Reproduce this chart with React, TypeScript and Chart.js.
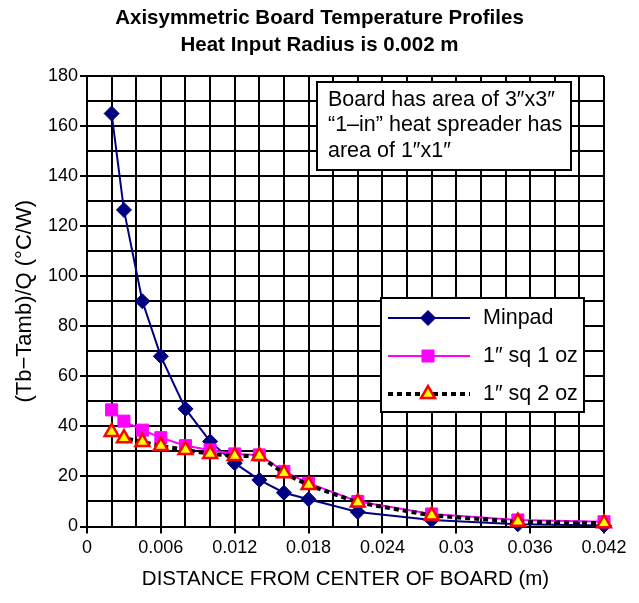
import React, { useEffect, useRef } from 'react';
import { Chart, registerables } from 'chart.js';
import { drawPoint } from 'chart.js/helpers';

Chart.register(...registerables);

// ---- data ----
const distances = [0.002, 0.003, 0.0045, 0.006, 0.008, 0.01, 0.012, 0.014, 0.016, 0.018, 0.022, 0.028, 0.035, 0.042];
const minpad = [165, 126.5, 90, 68, 47, 34, 25.3, 18.6, 13.5, 10.9, 5.8, 2.6, 0.9, 0.4];
const sq1oz = [46.6, 42.1, 38.5, 35.5, 32.3, 30.6, 29.0, 28.6, 22.0, 17.3, 10.0, 5.0, 2.6, 1.9];
const sq2oz = [37.8, 35.3, 33.8, 32.2, 30.6, 29.0, 28.2, 28.2, 21.3, 16.6, 9.6, 4.4, 1.9, 1.3];
const seriesNames = ['Minpad', '1\u2033 sq 1 oz', '1\u2033 sq 2 oz'];
const titleLines = ['Axisymmetric Board Temperature Profiles', 'Heat Input Radius is 0.002 m'];
const noteLines = ['Board has area of 3\u2033x3\u2033', '\u201C1\u2013in\u201D heat spreader has', 'area of 1\u2033x1\u2033'];
const xTitle = 'DISTANCE FROM CENTER OF BOARD (m)';
const yTitle = '(Tb\u2212Tamb)/Q (\u00B0C/W)';
const xMax = 0.042;
const xStep = 0.002;
const yMax = 180;
const yStep = 10;

const FAMILY = '"Liberation Sans", Arial, sans-serif';

const overlayPlugin = {
  id: 'overlay',
  afterDraw(chart: any) {
    const ctx: CanvasRenderingContext2D = chart.ctx;
    const ca = chart.chartArea;
    ctx.save();
    // note box
    const nx = ca.left + 230, ny = ca.top + 6, nw = 254, nh = 88;
    ctx.fillStyle = '#ffffff';
    ctx.fillRect(nx, ny, nw, nh);
    ctx.strokeStyle = '#000000';
    ctx.lineWidth = 2;
    ctx.strokeRect(nx, ny, nw, nh);
    ctx.fillStyle = '#000000';
    ctx.font = `21.5px ${FAMILY}`;
    ctx.textBaseline = 'middle';
    ctx.textAlign = 'left';
    noteLines.forEach((t, i) => ctx.fillText(t, nx + 11, ny + 18 + i * 25.5));

    // legend box
    const lx = ca.left + 294, ly = ca.top + 222, lw = 203, lh = 114;
    ctx.fillStyle = '#ffffff';
    ctx.fillRect(lx, ly, lw, lh);
    ctx.strokeStyle = '#000000';
    ctx.lineWidth = 2;
    ctx.strokeRect(lx, ly, lw, lh);
    chart.data.datasets.forEach((ds: any, i: number) => {
      const cy = ly + 20 + i * 38;
      ctx.save();
      ctx.strokeStyle = ds.borderColor;
      ctx.lineWidth = ds.borderWidth;
      ctx.setLineDash(ds.borderDash || []);
      ctx.beginPath();
      ctx.moveTo(lx + 7, cy);
      ctx.lineTo(lx + 89, cy);
      ctx.stroke();
      ctx.setLineDash([]);
      ctx.fillStyle = ds.pointBackgroundColor;
      ctx.strokeStyle = ds.pointBorderColor;
      ctx.lineWidth = ds.pointBorderWidth;
      drawPoint(ctx, { pointStyle: ds.pointStyle, rotation: 0, radius: ds.pointRadius, borderWidth: ds.pointBorderWidth } as any, lx + 47, cy);
      ctx.restore();
      ctx.fillStyle = '#000000';
      ctx.font = `21.5px ${FAMILY}`;
      ctx.textBaseline = 'middle';
      ctx.fillText(ds.label, lx + 102, cy);
    });
    ctx.restore();
  },
};

export default function App() {
  const ref = useRef<HTMLCanvasElement>(null);
  useEffect(() => {
    document.body.style.margin = '0';
    const canvas = ref.current!;
    const pts = (ys: number[]) => distances.map((x, i) => ({ x, y: ys[i] }));
    const chart = new Chart(canvas, {
      type: 'line',
      data: {
        datasets: [
          {
            label: seriesNames[0], data: pts(minpad), yAxisID: 'y',
            borderColor: '#000080', backgroundColor: '#000080', borderWidth: 2,
            pointStyle: 'rectRot', pointRadius: 7.5, pointBackgroundColor: '#000080',
            pointBorderColor: '#000080', pointBorderWidth: 1, order: 3, clip: false,
          } as any,
          {
            label: seriesNames[1], data: pts(sq1oz), yAxisID: 'y',
            borderColor: '#ff00ff', backgroundColor: '#ff00ff', borderWidth: 2,
            pointStyle: 'rect', pointRadius: 8.5, pointBackgroundColor: '#ff00ff',
            pointBorderColor: '#ff00ff', pointBorderWidth: 1, order: 2, clip: false,
          } as any,
          {
            label: seriesNames[2], data: pts(sq2oz), yAxisID: 'y',
            borderColor: '#000000', backgroundColor: '#ffff00', borderWidth: 4, borderDash: [5, 4],
            pointStyle: 'triangle', pointRadius: 8, pointBackgroundColor: '#ffff00',
            pointBorderColor: '#ff0000', pointBorderWidth: 2.5, order: 1, clip: false,
          } as any,
        ],
      },
      options: {
        responsive: false,
        animation: false,
        events: [],
        layout: { padding: { left: 0, right: 0, top: 0, bottom: 0 } },
        plugins: {
          legend: { display: false },
          tooltip: { enabled: false },
          title: {
            display: true,
            text: titleLines,
            color: '#000000',
            font: { family: FAMILY, size: 20.5, weight: 'bold', lineHeight: 1.3 },
            padding: { top: 5, bottom: 17.7 },
          },
        },
        scales: {
          x: {
            type: 'linear',
            min: 0,
            max: xMax,
            afterFit: (s: any) => { s.height = 76.5; },
            ticks: {
              stepSize: xStep,
              autoSkip: false,
              maxRotation: 0,
              color: '#000000',
              font: { family: FAMILY, size: 18 },
              padding: 4,
              callback: (v: any) => (Math.round(v / xStep) % 3 === 0 ? String(Math.round(v * 1000) / 1000) : ''),
            },
            grid: {
              color: '#000000',
              lineWidth: 2,
              tickLength: 7,
              tickColor: (c: any) => (c.tick && Math.round(c.tick.value / xStep) % 3 === 0 ? '#000000' : 'rgba(0,0,0,0)'),
            },
            border: { color: '#000000', width: 2 },
            title: {
              display: true,
              text: xTitle,
              color: '#000000',
              font: { family: FAMILY, size: 20.5, lineHeight: 1.2 },
              padding: { top: 0, bottom: 11.7 },
            },
          },
          y: {
            type: 'linear',
            position: 'left',
            min: 0,
            max: yMax,
            afterFit: (s: any) => { s.width = 87; },
            ticks: {
              stepSize: yStep,
              autoSkip: false,
              color: '#000000',
              font: { family: FAMILY, size: 18 },
              padding: 2,
              callback: (v: any) => (Math.round(v) % 20 === 0 ? String(v) : ''),
            },
            grid: {
              color: '#000000',
              lineWidth: 2,
              tickLength: 7,
              tickColor: (c: any) => (c.tick && Math.round(c.tick.value) % 20 === 0 ? '#000000' : 'rgba(0,0,0,0)'),
            },
            border: { color: '#000000', width: 2 },
            title: {
              display: true,
              text: yTitle,
              color: '#000000',
              font: { family: FAMILY, size: 22, lineHeight: 1.2 },
              padding: { top: 12, bottom: 0 },
            },
          },
          // empty right-hand margin (keeps the title centred on the whole canvas)
          yRight: {
            type: 'linear',
            position: 'right',
            min: 0,
            max: yMax,
            afterFit: (s: any) => { s.width = 35; },
            ticks: { display: false },
            grid: { display: false, drawOnChartArea: false },
            border: { display: false },
          },
        },
      },
      plugins: [overlayPlugin],
    } as any);
    return () => chart.destroy();
  }, []);
  return <canvas ref={ref} width={639} height={603} style={{ display: 'block' }} />;
}
